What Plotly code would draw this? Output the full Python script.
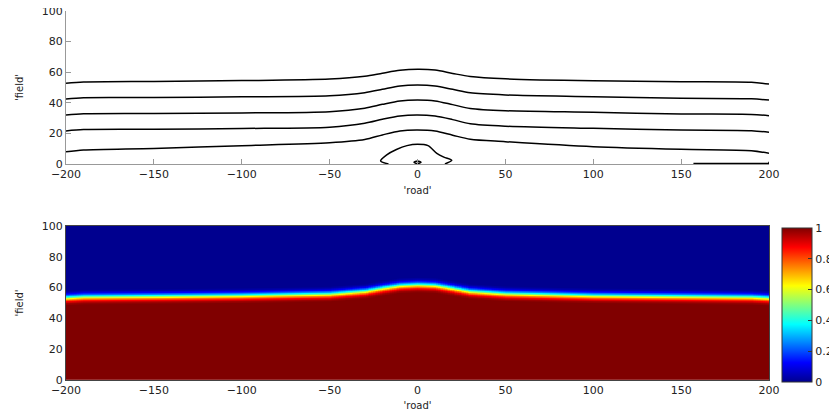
import numpy as np
import plotly.graph_objects as go

# ---------------- data ----------------
# x positions ('road') where contour heights were read
contour_x = [-200, -190, -150, -100, -50, -30, -20, -10, 0, 10, 20, 30, 50, 100, 150, 190, 200]
# heights ('field') of the five long contour lines
contour_1 = [52.7, 53.6, 54.0, 54.5, 55.5, 57.3, 59.3, 61.2, 61.9, 61.4, 59.2, 57.2, 55.7, 54.4, 53.8, 53.4, 52.2]
contour_2 = [42.5, 43.3, 43.4, 43.9, 44.6, 46.6, 48.8, 51.0, 51.6, 51.0, 48.8, 46.5, 45.1, 44.0, 42.9, 42.6, 41.8]
contour_3 = [32.0, 32.8, 33.0, 33.4, 34.2, 36.5, 39.0, 41.2, 41.8, 41.2, 38.8, 36.3, 34.8, 33.8, 32.7, 32.4, 31.6]
contour_4 = [21.6, 22.5, 22.7, 23.2, 24.1, 26.6, 29.2, 31.4, 32.0, 31.3, 29.0, 26.3, 24.7, 23.3, 22.2, 21.8, 20.7]
contour_5 = [8.0, 9.2, 10.2, 12.0, 13.9, 16.0, 19.0, 21.6, 22.2, 21.5, 18.8, 16.2, 14.6, 11.3, 9.6, 8.7, 7.0]
# closed loop near the road centre
loop_x = [-16.5, -21.0, -17.5, -12.0, -6.0, 0.0, 6.0, 11.0, 15.0, 19.5, 15.6]
loop_y = [0.0, 2.0, 6.0, 9.5, 12.0, 12.9, 12.0, 7.0, 4.5, 2.4, 0.0]
# tiny closed contour at the origin
dot_x = [-2.0, 0.0, 2.0, 0.0, -2.0]
dot_y = [1.1, 1.9, 1.1, 0.3, 1.1]
# boundary contour piece at bottom right
edge_x = [157, 200, 200]
edge_y = [0.3, 0.3, 1.5]

# front of the field (value 0.5)
front_x = contour_x
front_y = [53.2, 53.8, 54.1, 54.6, 55.6, 57.4, 59.4, 61.1, 61.6, 61.2, 59.3, 57.3, 55.8, 54.5, 54.0, 53.6, 53.0]
# value across the front (distance above the front -> value)
band_offset = [-5.0, -3.8, -2.5, -1.2, 0.0, 1.2, 2.5, 3.8, 5.0]
band_value = [1.0, 0.97, 0.88, 0.72, 0.5, 0.28, 0.12, 0.03, 0.0]

x_ticks = [-200, -150, -100, -50, 0, 50, 100, 150, 200]
y_ticks = [0, 20, 40, 60, 80, 100]
cbar_ticks = [0, 0.2, 0.4, 0.6, 0.8, 1]

# ---------------- build field grid ----------------
grid_x = np.arange(-200, 201, 1.0)
grid_y = np.arange(0, 100.01, 0.25)
front = np.interp(grid_x, front_x, front_y)
z = np.interp(grid_y[:, None] - front[None, :], band_offset, band_value)

jet = [
    [0.0, "rgb(0,0,143)"],
    [0.125, "rgb(0,0,255)"],
    [0.375, "rgb(0,255,255)"],
    [0.625, "rgb(255,255,0)"],
    [0.875, "rgb(255,0,0)"],
    [1.0, "rgb(128,0,0)"],
]

W, H = 837, 412
OFF = 8  # page body margin shifts the figure by this many px
L = 66 - OFF
R = W - (769 - OFF)
T = 11 - OFF
B = H - (380 - OFF)
PH = H - T - B  # plot-area height in px
PW = W - L - R


def fy(pix):
    """reference pixel row (from top) -> paper fraction inside the plot area"""
    return (H - B - (pix - OFF)) / PH


font = dict(family="DejaVu Sans, Liberation Sans, sans-serif", size=11, color="#222")
title_font = dict(size=10, family=font["family"], color="#222")

fig = go.Figure()
line_style = dict(color="black", width=1.5, shape="spline", smoothing=0.8)
for yv in [contour_1, contour_2, contour_3, contour_4, contour_5]:
    fig.add_trace(go.Scatter(x=contour_x, y=yv, mode="lines", line=line_style,
                             xaxis="x", yaxis="y", showlegend=False, hoverinfo="skip"))
fig.add_trace(go.Scatter(x=loop_x, y=loop_y, mode="lines", line=line_style,
                         xaxis="x", yaxis="y", showlegend=False, hoverinfo="skip"))
fig.add_trace(go.Scatter(x=dot_x, y=dot_y, mode="lines", line=dict(color="black", width=1.5, shape="spline"),
                         xaxis="x", yaxis="y", showlegend=False, hoverinfo="skip"))
fig.add_trace(go.Scatter(x=edge_x, y=edge_y, mode="lines", line=dict(color="black", width=1.5),
                         xaxis="x", yaxis="y", showlegend=False, hoverinfo="skip"))

fig.add_trace(go.Heatmap(
    x=grid_x, y=grid_y, z=z, zmin=0, zmax=1, colorscale=jet,
    xaxis="x2", yaxis="y2", hoverinfo="skip",
    colorbar=dict(
        x=(782 - OFF - L) / PW, xanchor="left",
        y=fy(305), yanchor="middle",
        thickness=30, thicknessmode="pixels",
        len=(382 - 228) / PH, lenmode="fraction",
        outlinewidth=1, outlinecolor="#333",
        tickvals=cbar_ticks, ticks="inside", ticklen=4, tickcolor="#333",
        tickfont=font, xpad=0, ypad=0,
    ),
))

common_x = dict(range=[-200, 200], tickvals=x_ticks, tickfont=font, showgrid=False, zeroline=False,
                automargin=False, ticklabeloverflow="allow")
common_y = dict(range=[0, 100], tickvals=y_ticks, tickfont=font, showgrid=False, zeroline=False,
                automargin=False, ticklabeloverflow="allow")

fig.update_layout(
    width=W, height=H, autosize=False,
    margin=dict(l=L, r=R, t=T, b=B, autoexpand=False),
    paper_bgcolor="white", plot_bgcolor="white",
    font=font,
    xaxis=dict(domain=[0, 1], anchor="y", showline=True, linecolor="#999", linewidth=1,
               ticks="inside", ticklen=5, tickcolor="#999",
               title=dict(text="'road'", font=title_font, standoff=6),
               **common_x),
    yaxis=dict(domain=[fy(164), fy(11)], anchor="x", showline=True, linecolor="#999", linewidth=1,
               ticks="inside", ticklen=5, tickcolor="#999",
               title=dict(text="'field'", font=title_font, standoff=16),
               **common_y),
    xaxis2=dict(domain=[0, 1], anchor="y2", showline=True, mirror=True, linecolor="#444", linewidth=1,
                ticks="",
                title=dict(text="'road'", font=title_font, standoff=5),
                **common_x),
    yaxis2=dict(domain=[fy(380), fy(226)], anchor="x2", showline=True, mirror=True, linecolor="#444", linewidth=1,
                ticks="",
                title=dict(text="'field'", font=title_font, standoff=16),
                **common_y),
)

fig.write_html("out.html")
